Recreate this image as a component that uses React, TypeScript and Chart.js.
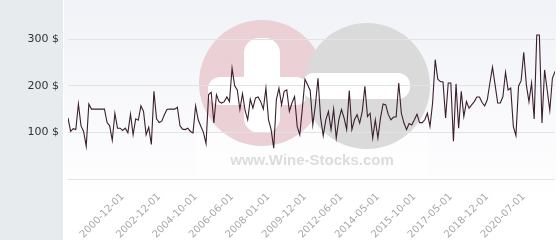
import React, { useEffect, useRef } from 'react';
import { Chart, registerables } from 'chart.js';

Chart.register(...registerables);

const prices: number[] = [
  131, 102, 108, 106, 161, 114, 102, 70, 161, 150,
  150, 150, 150, 150, 150, 121, 114, 83, 141, 109,
  109, 104, 109, 99, 139, 95, 129, 126, 157, 145,
  95, 111, 74, 188, 129, 121, 124, 138, 149, 150,
  150, 150, 154, 114, 107, 106, 109, 102, 99, 157,
  127, 113, 100, 76, 181, 186, 120, 181, 166, 163,
  166, 176, 166, 238, 200, 191, 149, 183, 147, 127,
  171, 152, 174, 176, 166, 150, 195, 127, 106, 66,
  170, 195, 159, 188, 191, 145, 163, 177, 113, 95,
  152, 214, 202, 190, 116, 159, 216, 131, 93, 127,
  145, 106, 150, 88, 127, 149, 131, 106, 190, 106,
  127, 138, 120, 145, 199, 134, 141, 88, 127, 88,
  131, 161, 159, 138, 127, 133, 133, 206, 141, 120,
  106, 119, 116, 127, 139, 121, 121, 127, 141, 113,
  163, 256, 214, 209, 208, 131, 206, 206, 81, 204,
  109, 188, 134, 166, 152, 159, 166, 176, 176, 164,
  157, 170, 206, 240, 202, 163, 163, 177, 229, 191,
  195, 113, 93, 199, 211, 272, 202, 166, 206, 129,
  309, 309, 120, 234, 191, 147, 216, 231,
];

const tickIndexes: number[] = [21, 35, 49, 63, 77, 91, 105, 119, 133, 147, 161, 175];
const tickLabels: string[] = [
  '2000-12-01', '2002-12-01', '2004-10-01', '2006-06-01', '2008-01-01', '2009-12-01',
  '2012-06-01', '2014-05-01', '2015-10-01', '2017-05-01', '2018-12-01', '2020-07-01',
];
const yTicks: number[] = [0, 100, 200, 300];
const currency = ' $';
const watermarkText = 'www.Wine-Stocks.com';

function roundRect(ctx: CanvasRenderingContext2D, x: number, y: number, w: number, h: number, r: number) {
  ctx.beginPath();
  ctx.moveTo(x + r, y);
  ctx.lineTo(x + w - r, y);
  ctx.arc(x + w - r, y + r, r, -Math.PI / 2, 0);
  ctx.lineTo(x + w, y + h - r);
  ctx.arc(x + w - r, y + h - r, r, 0, Math.PI / 2);
  ctx.lineTo(x + r, y + h);
  ctx.arc(x + r, y + h - r, r, Math.PI / 2, Math.PI);
  ctx.lineTo(x, y + r);
  ctx.arc(x + r, y + r, r, Math.PI, Math.PI * 1.5);
  ctx.closePath();
  ctx.fill();
}

const backgroundPlugin = {
  id: 'backgroundPlugin',
  beforeDraw(chart: any) {
    const ctx: CanvasRenderingContext2D = chart.ctx;
    const { left, right } = chart.chartArea;
    const W = chart.width;
    const H = chart.height;
    ctx.save();
    ctx.fillStyle = '#ffffff';
    ctx.fillRect(0, 0, W, H);
    ctx.fillStyle = '#e8ebee';
    ctx.fillRect(0, 0, left - 5, H);
    const g = ctx.createLinearGradient(0, 0, 0, H);
    g.addColorStop(0, '#f1f2f7');
    g.addColorStop(0.85, '#ffffff');
    g.addColorStop(1, '#ffffff');
    ctx.fillStyle = g;
    ctx.fillRect(left - 4, 0, right + 1 - (left - 4), H);

    // watermark logo
    ctx.fillStyle = 'rgba(255,255,255,0.55)';
    ctx.fillRect(196, 132, 232, 44);
    ctx.fillStyle = '#ebd0d6';
    ctx.beginPath();
    ctx.arc(262, 83, 63, 0, Math.PI * 2);
    ctx.fill();
    ctx.fillStyle = '#ffffff';
    roundRect(ctx, 244, 38, 36, 95, 15);
    roundRect(ctx, 208, 77, 100, 28, 12);
    ctx.fillStyle = '#dadada';
    ctx.beginPath();
    ctx.arc(367, 86, 63, 0, Math.PI * 2);
    ctx.fill();
    ctx.fillStyle = '#ffffff';
    roundRect(ctx, 302, 73, 108, 26, 12);
    ctx.fillStyle = '#dcdcdc';
    ctx.font = 'bold 15px "Liberation Sans", Arial, sans-serif';
    ctx.textAlign = 'center';
    ctx.textBaseline = 'alphabetic';
    ctx.fillText(watermarkText, 312, 165);
    ctx.font = 'bold 16px "Liberation Sans", Arial, sans-serif';
    ctx.fillText('®', 384, 146);
    ctx.restore();
  },
};

export default function App() {
  const canvasRef = useRef<HTMLCanvasElement | null>(null);

  useEffect(() => {
    document.body.style.margin = '0';
    const canvas = canvasRef.current;
    if (!canvas) return;
    const chart = new Chart(canvas, {
      type: 'line',
      data: {
        datasets: [
          {
            data: prices.map((v, i) => ({ x: i, y: v })),
            borderColor: '#3a1f2c',
            borderWidth: 1.1,
            pointRadius: 0,
            tension: 0,
            fill: false,
          },
        ],
      },
      options: {
        responsive: false,
        animation: false,
        devicePixelRatio: 1,
        layout: { padding: { left: 0, right: 5, top: 0, bottom: 0 } },
        plugins: { legend: { display: false }, tooltip: { enabled: false } },
        scales: {
          x: {
            type: 'linear',
            min: 0,
            max: prices.length - 1,
            grid: { display: false },
            border: { display: false },
            afterBuildTicks: (s: any) => {
              s.ticks = tickIndexes.map((v) => ({ value: v }));
            },
            afterFit: (s: any) => {
              s.height = 61;
              s.paddingLeft = 0;
              s.paddingRight = 0;
            },
            ticks: {
              autoSkip: false,
              maxRotation: 45,
              minRotation: 45,
              color: '#a8a8a8',
              padding: 4,
              font: { family: 'DejaVu Sans', size: 10 },
              callback: (v: any) => {
                const k = tickIndexes.indexOf(Number(v));
                return k >= 0 ? tickLabels[k] : '';
              },
            },
          },
          y: {
            min: 0,
            max: 384,
            afterBuildTicks: (s: any) => {
              s.ticks = yTicks.map((v) => ({ value: v }));
            },
            afterFit: (s: any) => {
              s.width = 68;
              s.paddingTop = 0;
              s.paddingBottom = 0;
            },
            grid: { color: '#e2e3e8', drawTicks: false },
            border: { display: false },
            ticks: {
              padding: 9,
              color: '#333333',
              font: { family: 'DejaVu Sans', size: 11 },
              callback: (v: any) => (Number(v) === 0 ? '' : v + currency),
            },
          },
        },
      },
      plugins: [backgroundPlugin],
    } as any);
    return () => chart.destroy();
  }, []);

  return (
    <div style={{ width: 560, height: 240 }}>
      <canvas ref={canvasRef} width={560} height={240} style={{ display: 'block' }} />
    </div>
  );
}
